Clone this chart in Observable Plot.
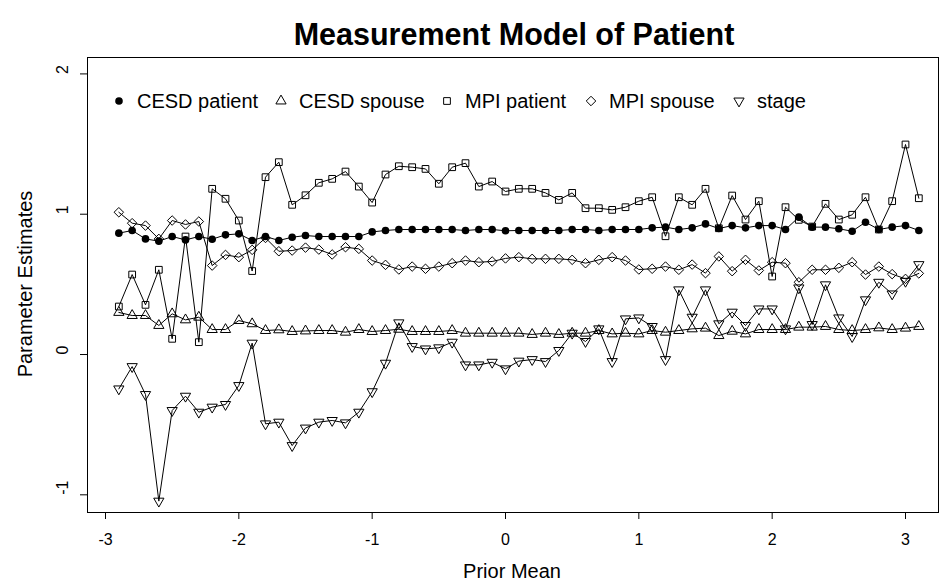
<!DOCTYPE html>
<html><head><meta charset="utf-8">
<script src="https://cdn.jsdelivr.net/npm/d3@7"></script>
<script src="https://cdn.jsdelivr.net/npm/@observablehq/plot@0.6"></script>
<style>body{margin:0;background:#fff} svg{display:block}</style>
</head><body><div id="chart"></div>
<script>
const priorMean = [-2.9,-2.8,-2.7,-2.6,-2.5,-2.4,-2.3,-2.2,-2.1,-2.0,-1.9,-1.8,-1.7,-1.6,-1.5,-1.4,-1.3,-1.2,-1.1,-1.0,
  -0.9,-0.8,-0.7,-0.6,-0.5,-0.4,-0.3,-0.2,-0.1,0.0,0.1,0.2,0.3,0.4,0.5,0.6,0.7,0.8,0.9,1.0,
  1.1,1.2,1.3,1.4,1.5,1.6,1.7,1.8,1.9,2.0,2.1,2.2,2.3,2.4,2.5,2.6,2.7,2.8,2.9,3.0,3.1];
const cesdPatient = [0.865,0.884,0.824,0.808,0.841,0.817,0.841,0.822,0.853,0.860,0.813,0.841,0.813,0.836,0.848,0.841,0.841,0.841,0.841,0.874,
  0.884,0.891,0.891,0.891,0.891,0.891,0.884,0.891,0.891,0.882,0.884,0.884,0.884,0.884,0.891,0.891,0.884,0.891,0.891,0.891,
  0.903,0.908,0.891,0.903,0.931,0.898,0.919,0.903,0.919,0.919,0.891,0.979,0.908,0.908,0.896,0.879,0.943,0.891,0.908,0.919,0.884];
const cesdSpouse = [0.300,0.278,0.278,0.207,0.290,0.247,0.266,0.178,0.178,0.242,0.219,0.171,0.176,0.164,0.168,0.171,0.171,0.159,0.178,0.164,
  0.171,0.180,0.164,0.164,0.164,0.171,0.152,0.152,0.152,0.152,0.152,0.143,0.152,0.143,0.152,0.152,0.171,0.147,0.152,0.147,
  0.171,0.159,0.171,0.183,0.188,0.135,0.166,0.147,0.178,0.178,0.178,0.195,0.195,0.200,0.178,0.171,0.178,0.190,0.178,0.188,0.200];
const mpiPatient = [0.342,0.570,0.354,0.604,0.112,0.841,0.088,1.181,1.110,0.955,0.595,1.264,1.371,1.067,1.135,1.224,1.252,1.304,1.197,1.083,
  1.283,1.342,1.335,1.323,1.217,1.335,1.364,1.197,1.233,1.162,1.181,1.181,1.152,1.102,1.152,1.043,1.043,1.031,1.050,1.093,
  1.121,0.843,1.121,1.067,1.181,0.900,1.133,0.962,1.093,0.556,1.050,0.960,0.912,1.074,0.962,0.996,1.121,0.891,1.093,1.497,1.114];
const mpiSpouse = [1.014,0.936,0.919,0.824,0.955,0.927,0.948,0.634,0.710,0.694,0.746,0.831,0.736,0.741,0.762,0.748,0.713,0.765,0.753,0.670,
  0.639,0.606,0.627,0.611,0.627,0.651,0.670,0.658,0.663,0.685,0.694,0.682,0.682,0.682,0.675,0.651,0.675,0.694,0.670,0.606,
  0.611,0.627,0.604,0.641,0.580,0.699,0.594,0.675,0.599,0.658,0.651,0.515,0.604,0.604,0.618,0.658,0.570,0.627,0.573,0.539,0.578];
const stage = [-0.245,-0.086,-0.285,-1.045,-0.399,-0.297,-0.411,-0.375,-0.356,-0.221,0.081,-0.494,-0.482,-0.649,-0.524,-0.482,-0.470,-0.487,-0.411,-0.265,
  -0.062,0.226,0.057,0.040,0.048,0.088,-0.074,-0.074,-0.055,-0.102,-0.047,-0.036,-0.050,0.029,0.152,0.093,0.183,-0.050,0.254,0.261,
  0.200,-0.036,0.461,0.266,0.461,0.219,0.302,0.207,0.325,0.325,0.183,0.475,0.214,0.497,0.261,0.128,0.390,0.515,0.432,0.522,0.641];

const seriesNames = ["CESD patient","CESD spouse","MPI patient","MPI spouse","stage"];
const seriesValues = [cesdPatient, cesdSpouse, mpiPatient, mpiSpouse, stage];
const seriesShapes = ["circle","triangleUp","square","diamond","triangleDown"];
const xTicks = [-3,-2,-1,0,1,2,3];
const yTicks = [-1,0,1,2];
const titleText = "Measurement Model of Patient";
const xLabel = "Prior Mean";
const yLabel = "Parameter Estimates";

// R-style pch symbols (16, 2, 0, 5, 6)
function rSymbol(kind) {
  return {draw(ctx, size) {
    const R = Math.sqrt(size / Math.PI);
    if (kind === "circle") { ctx.moveTo(R, 0); ctx.arc(0, 0, R, 0, 2 * Math.PI); }
    else if (kind === "square") { const s = 0.886 * R; ctx.moveTo(-s, -s); ctx.lineTo(s, -s); ctx.lineTo(s, s); ctx.lineTo(-s, s); ctx.closePath(); }
    else if (kind === "diamond") { const d = Math.SQRT2 * 0.886 * R; ctx.moveTo(0, -d); ctx.lineTo(d, 0); ctx.lineTo(0, d); ctx.lineTo(-d, 0); ctx.closePath(); }
    else {
      const r = 1.555 * R, xc = r * Math.sqrt(3) / 2, yc = r / 2, sgn = kind === "triangleUp" ? 1 : -1;
      ctx.moveTo(0, -sgn * r); ctx.lineTo(xc, sgn * yc); ctx.lineTo(-xc, sgn * yc); ctx.closePath();
    }
  }};
}

const rows = seriesNames.flatMap((name, i) => seriesValues[i].map((v, j) => ({series: name, x: priorMean[j], y: v})));
const R0 = 3.8;
const font = "'Liberation Sans', Arial, Helvetica, sans-serif";

const plot = Plot.plot({
  width: 943, height: 586,
  marginLeft: 87, marginRight: 5, marginTop: 57, marginBottom: 74,
  style: {fontFamily: font, background: "white", color: "black"},
  x: {domain: [-3.135, 3.2475]},
  y: {domain: [-1.126, 2.117]},
  marks: [
    Plot.frame({stroke: "black", strokeWidth: 1}),
    Plot.axisX({ticks: xTicks, tickSize: 7, tickPadding: 14, fontSize: 16, tickFormat: d => String(d), label: null}),
    Plot.axisY({ticks: yTicks, tickSize: 7, tickFormat: () => "", label: null}),
    Plot.text(yTicks, {y: d => d, text: d => String(d), frameAnchor: "left", dx: -25, rotate: -90, fontSize: 16, fill: "black"}),
    Plot.line(rows, {x: "x", y: "y", z: "series", stroke: "black", strokeWidth: 1}),
    ...seriesNames.map((name, i) => Plot.dot(rows.filter(d => d.series === name), {
      x: "x", y: "y", symbol: rSymbol(seriesShapes[i]), r: R0,
      fill: i === 0 ? "black" : "none", stroke: i === 0 ? "none" : "black", strokeWidth: 1
    }))
  ]
});

const svg = d3.select(plot);
svg.append("text").attr("x", 514).attr("y", 45).attr("text-anchor", "middle")
  .attr("font-family", font).attr("font-size", 30.5).attr("font-weight", "bold").attr("fill", "black").text(titleText);
svg.append("text").attr("x", 512).attr("y", 578).attr("text-anchor", "middle")
  .attr("font-family", font).attr("font-size", 20).attr("fill", "black").text(xLabel);
svg.append("text").attr("transform", "translate(32,284) rotate(-90)").attr("text-anchor", "middle")
  .attr("font-family", font).attr("font-size", 20).attr("fill", "black").text(yLabel);

// legend (horizontal, no box)
const legendX = [119, 281, 447, 591, 739];
const legendY = 101;
const lg = svg.append("g").attr("text-anchor", "start");
seriesNames.forEach((name, i) => {
  lg.append("path").attr("transform", `translate(${legendX[i]},${legendY})`)
    .attr("d", d3.symbol().type(rSymbol(seriesShapes[i])).size(Math.PI * R0 * R0)())
    .attr("fill", i === 0 ? "black" : "none").attr("stroke", i === 0 ? "none" : "black").attr("stroke-width", 1);
  lg.append("text").attr("x", legendX[i] + 18).attr("y", legendY).attr("dy", "0.35em").attr("text-anchor", "start")
    .attr("font-family", font).attr("font-size", 20).attr("fill", "black").text(name);
});

document.getElementById("chart").appendChild(plot);
</script>
</body></html>
